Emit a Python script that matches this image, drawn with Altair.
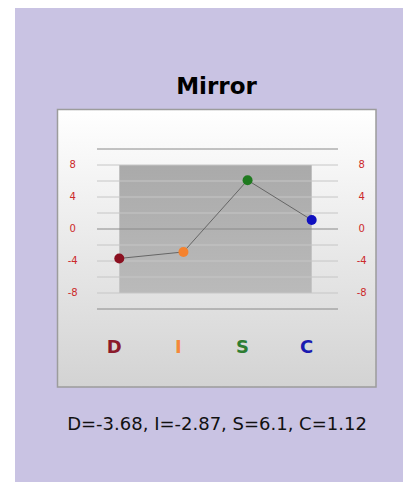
import altair as alt
import pandas as pd

# ---- data ----
categories = ["D", "I", "S", "C"]
values = [-3.68, -2.87, 6.1, 1.12]
point_colors = ["#8b1020", "#f5822e", "#1f7a1f", "#1010c0"]
label_colors = ["#8b1a2b", "#f5883a", "#2e7d32", "#1a1ab0"]
tick_values = [8, 4, 0, -4, -8]
grid_values = [10, 8, 6, 4, 2, 0, -2, -4, -6, -8, -10]
major_grid = [10, 0, -10]
title_text = "Mirror"
summary_text = "D=-3.68, I=-2.87, S=6.1, C=1.12"

W, H = 395, 474

pts = pd.DataFrame({"cat": categories, "val": values, "pc": point_colors, "lc": label_colors})
grid = pd.DataFrame({"g": grid_values, "major": [g in major_grid for g in grid_values]})
ticks = pd.DataFrame({"t": tick_values, "lab": [str(t) for t in tick_values]})
band = pd.DataFrame({"x1": [categories[0]], "x2": [categories[-1]], "y1": [-8], "y2": [8]})
one = pd.DataFrame({"a": [0]})

xs = alt.Scale(type="point", domain=categories, range=[111.3, 303.7], padding=0)
ys = alt.Scale(domain=[-10, 10], range=[301, 141], nice=False, zero=False)

bg = alt.Chart(one).mark_rect(color="#c9c3e3").encode(
    x=alt.value(7), x2=alt.value(W), y=alt.value(0), y2=alt.value(H)
)

box = alt.Chart(one).mark_rect(
    color=alt.LinearGradient(
        gradient="linear",
        stops=[alt.GradientStop(color="#ffffff", offset=0),
               alt.GradientStop(color="#d3d3d3", offset=1)],
        x1=0, x2=0, y1=0, y2=1),
    stroke="#9c9c9c", strokeWidth=1.5
).encode(x=alt.value(49.5), x2=alt.value(368), y=alt.value(101.5), y2=alt.value(379))

dark = alt.Chart(band).mark_rect(
    color=alt.LinearGradient(
        gradient="linear",
        stops=[alt.GradientStop(color="#aaaaaa", offset=0),
               alt.GradientStop(color="#bababa", offset=1)],
        x1=0, x2=0, y1=0, y2=1)
).encode(
    x=alt.X("x1:N", scale=xs, axis=None), x2="x2:N",
    y=alt.Y("y1:Q", scale=ys, axis=None), y2="y2:Q"
)

gridlines = alt.Chart(grid).mark_rule(strokeWidth=1).encode(
    x=alt.value(89), x2=alt.value(330),
    y=alt.Y("g:Q", scale=ys, axis=None),
    color=alt.condition("datum.major", alt.value("#8a8a8a"), alt.value("#c6c6c6")),
)

line = alt.Chart(pts).mark_line(color="#666666", strokeWidth=1).encode(
    x=alt.X("cat:N", scale=xs, axis=None, sort=categories),
    y=alt.Y("val:Q", scale=ys, axis=None),
)

dots = alt.Chart(pts).mark_circle(size=100, opacity=1).encode(
    x=alt.X("cat:N", scale=xs, axis=None, sort=categories),
    y=alt.Y("val:Q", scale=ys, axis=None),
    color=alt.Color("pc:N", scale=None, legend=None),
)

left_ticks = alt.Chart(ticks).mark_text(
    fontSize=10, font="DejaVu Sans", color="#cc2a2a", align="center", baseline="middle"
).encode(x=alt.value(64.7), y=alt.Y("t:Q", scale=ys, axis=None), text="lab:N")

right_ticks = alt.Chart(ticks).mark_text(
    fontSize=10, font="DejaVu Sans", color="#cc2a2a", align="center", baseline="middle"
).encode(x=alt.value(353.7), y=alt.Y("t:Q", scale=ys, axis=None), text="lab:N")

cat_labels = alt.Chart(pts).mark_text(
    fontSize=18, font="DejaVu Sans", fontWeight="bold", align="center", baseline="middle", dx=-5
).encode(
    x=alt.X("cat:N", scale=xs, axis=None, sort=categories),
    y=alt.value(340),
    text="cat:N",
    color=alt.Color("lc:N", scale=None, legend=None),
)

title = alt.Chart(one).mark_text(
    text=title_text, fontSize=23, font="DejaVu Sans", fontWeight="bold",
    color="#000000", align="center", baseline="middle"
).encode(x=alt.value(208.5), y=alt.value(79))

summary = alt.Chart(one).mark_text(
    text=summary_text, fontSize=18, font="DejaVu Sans",
    color="#111111", align="center", baseline="middle"
).encode(x=alt.value(209), y=alt.value(417))

chart = alt.layer(
    bg, box, dark, gridlines, line, dots, left_ticks, right_ticks, cat_labels, title, summary
).properties(
    width=W, height=H, autosize=alt.AutoSizeParams(type="none"), padding=0,
    background="#ffffff"
).configure_view(strokeWidth=0)

chart.save("out.html", embed_options={"renderer": "svg", "actions": False})
